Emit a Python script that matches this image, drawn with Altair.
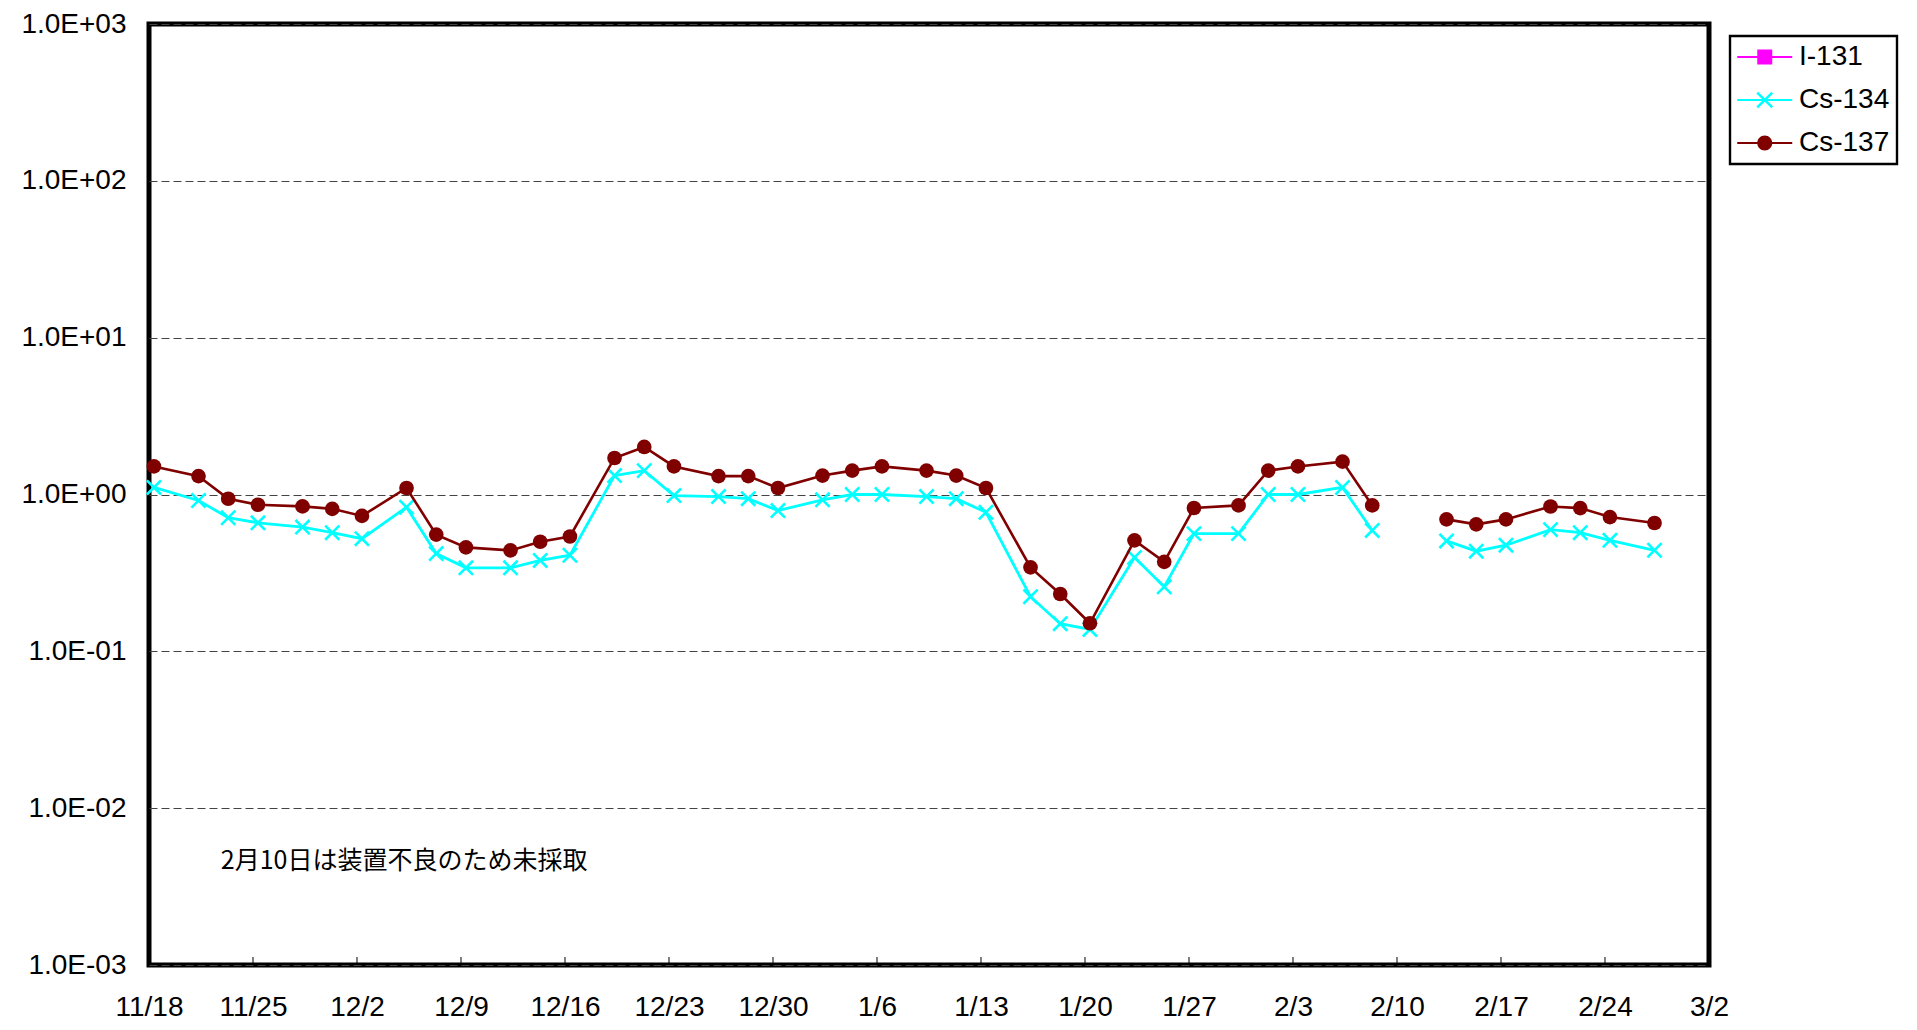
import altair as alt
import pandas as pd

# ---- data ----
sample_dates = [
    "2011-11-18", "2011-11-21", "2011-11-23", "2011-11-25", "2011-11-28", "2011-11-30",
    "2011-12-02", "2011-12-05", "2011-12-07", "2011-12-09", "2011-12-12", "2011-12-14",
    "2011-12-16", "2011-12-19", "2011-12-21", "2011-12-23", "2011-12-26", "2011-12-28",
    "2011-12-30", "2012-01-02", "2012-01-04", "2012-01-06", "2012-01-09", "2012-01-11",
    "2012-01-13", "2012-01-16", "2012-01-18", "2012-01-20", "2012-01-23", "2012-01-25",
    "2012-01-27", "2012-01-30", "2012-02-01", "2012-02-03", "2012-02-06", "2012-02-08",
    "2012-02-13", "2012-02-15", "2012-02-17", "2012-02-20", "2012-02-22", "2012-02-24",
    "2012-02-27",
]
cs134 = [
    1.11, 0.916, 0.711, 0.66, 0.62, 0.571, 0.523, 0.83, 0.42, 0.341, 0.341, 0.38,
    0.41, 1.32, 1.42, 0.985, 0.97, 0.94, 0.79, 0.925, 1.0, 1.0, 0.97, 0.94,
    0.77, 0.223, 0.15, 0.138, 0.397, 0.258, 0.563, 0.563, 1.0, 1.0, 1.11, 0.59,
    0.506, 0.435, 0.475, 0.597, 0.571, 0.51, 0.441,
]
cs137 = [
    1.51, 1.31, 0.94, 0.86, 0.84, 0.81, 0.73, 1.10, 0.555, 0.46, 0.44, 0.50,
    0.54, 1.71, 2.01, 1.51, 1.31, 1.31, 1.10, 1.32, 1.42, 1.51, 1.42, 1.32,
    1.10, 0.343, 0.232, 0.151, 0.51, 0.372, 0.82, 0.852, 1.42, 1.51, 1.62, 0.852,
    0.694, 0.645, 0.694, 0.839, 0.819, 0.718, 0.658,
]
missing_date = "2012-02-10"   # not sampled (gap in the lines)

series_names = ["I-131", "Cs-134", "Cs-137"]
series_colors = ["#FF00FF", "#00FFFF", "#800000"]

tick_dates = [
    "2011-11-18", "2011-11-25", "2011-12-02", "2011-12-09", "2011-12-16", "2011-12-23",
    "2011-12-30", "2012-01-06", "2012-01-13", "2012-01-20", "2012-01-27", "2012-02-03",
    "2012-02-10", "2012-02-17", "2012-02-24", "2012-03-02",
]
y_ticks = [0.001, 0.01, 0.1, 1, 10, 100, 1000]

note_text = ["2月10日は装置不良のため未採取"]
note_date = ["2011-11-22T20:00:00"]
note_value = [0.0046]

# ---- tables ----
rows = []
for d, a, b in zip(sample_dates, cs134, cs137):
    seg = 0 if d < missing_date else 1
    t = d + "T08:00:00"
    rows.append({"date": t, "series": "Cs-134", "value": a, "seg": seg})
    rows.append({"date": t, "series": "Cs-137", "value": b, "seg": seg})
df = pd.DataFrame(rows)
ticks_df = pd.DataFrame({"date": [d + "T00:00:00" for d in tick_dates]})
note_df = pd.DataFrame({"date": note_date, "value": note_value, "text": note_text})


def dt(s):
    y, m, d = (int(p) for p in s.split("-"))
    return alt.DateTime(year=y, month=m, date=d)


FONT = "Liberation Sans"
W, H = 1560, 941

x_enc = alt.X(
    "date:T",
    scale=alt.Scale(domain=[dt(tick_dates[0]), dt(tick_dates[-1])]),
    axis=alt.Axis(
        values=[dt(s) for s in tick_dates], format="%-m/%-d", title=None,
        labelFont=FONT, labelFontSize=28, labelColor="black", labelPadding=28,
        ticks=False, tickSize=0, domain=False, grid=False,
        labelFlush=False, labelOverlap=False,
    ),
)
y_enc = alt.Y(
    "value:Q",
    scale=alt.Scale(type="log", domain=[0.001, 1000], nice=False),
    axis=alt.Axis(
        values=y_ticks, title=None,
        labelExpr="'1.0E' + (datum.value < 1 ? '-' : '+') + '0' + format(abs(round(log(datum.value) / LN10)), 'd')",
        labelFont=FONT, labelFontSize=28, labelColor="black", labelPadding=23,
        ticks=False, tickSize=0, domain=False,
        grid=True, gridDash=[8, 4], gridColor="#444444", gridWidth=1,
    ),
)

base = alt.Chart(df).encode(x=x_enc, y=y_enc)

tick_layer = alt.Chart(ticks_df).mark_rule(color="black", strokeWidth=1).encode(
    x=x_enc, y=alt.value(H), y2=alt.value(H - 8)
)

c134_line = base.transform_filter(alt.datum.series == "Cs-134").mark_line(
    color="#00FFFF", strokeWidth=2.8
).encode(detail="seg:N")
c134_pts = base.transform_filter(alt.datum.series == "Cs-134").mark_point(
    shape="M-1,-1L1,1M-1,1L1,-1", filled=False, size=200, strokeWidth=2.6,
    color="#00FFFF", opacity=1,
)
c137_line = base.transform_filter(alt.datum.series == "Cs-137").mark_line(
    color="#800000", strokeWidth=2.6
).encode(detail="seg:N")
c137_pts = base.transform_filter(alt.datum.series == "Cs-137").mark_point(
    shape="circle", filled=True, size=215, color="#800000", opacity=1,
)

note_layer = alt.Chart(note_df).mark_text(
    align="left", baseline="middle", font="Noto Sans CJK JP", fontSize=25, color="black"
).encode(x=x_enc, y=y_enc, text="text:N")

# legend symbols: a short line with the series marker, drawn as filled outlines
BAR = "M-1,-0.08H3V0.08H-1Z"
legend_paths = [
    BAR + "M0.455,-0.545H1.545V0.545H0.455Z",
    BAR + "M0.519,-0.609L1.609,0.481L1.481,0.609L0.391,-0.481Z"
          "M0.519,0.609L0.391,0.481L1.481,-0.609L1.609,-0.481Z",
    BAR + "M0.455,0A0.545,0.545,0,1,1,1.545,0A0.545,0.545,0,1,1,0.455,0Z",
]
legend_def = alt.Legend(
    title=None, orient="none", legendX=1581, legendY=12, padding=7, rowPadding=15,
    strokeColor="black", fillColor="white",
    labelFont=FONT, labelFontSize=28, labelColor="black", labelOffset=34, labelLimit=300,
    symbolSize=756, symbolStrokeWidth=0, symbolOpacity=1,
)
legend_layer = base.transform_filter("false").mark_point(filled=True).encode(
    color=alt.Color("series:N", scale=alt.Scale(domain=series_names, range=series_colors), legend=legend_def),
    shape=alt.Shape("series:N", scale=alt.Scale(domain=series_names, range=legend_paths), legend=legend_def),
)

chart = alt.layer(
    tick_layer, c134_line, c134_pts, c137_line, c137_pts, note_layer, legend_layer
).properties(
    width=W, height=H,
    autosize=alt.AutoSizeParams(type="none"),
    padding={"left": 141, "top": 16, "right": 196, "bottom": 57},
    background="white",
).configure_view(stroke="black", strokeWidth=5).configure_legend(strokeWidth=2.4)

chart.save("out.html", embed_options={"renderer": "svg", "actions": False})
